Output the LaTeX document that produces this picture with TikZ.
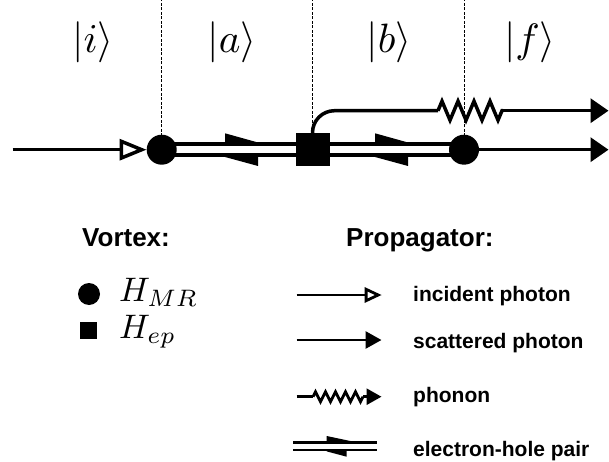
\documentclass[tikz,border=0pt]{standalone}
\usepackage{fontspec}
\newfontfamily\legfont{Liberation Sans}
\usetikzlibrary{arrows.meta,decorations.pathmorphing}
\pgfdeclarelayer{bg}
\pgfsetlayers{bg,main}
\newcommand{\biglbl}[1]{\scalebox{4.1}{$#1$}}
\newcommand{\midlbl}[1]{\scalebox{3.4}{$#1$}}
\begin{document}
\begin{tikzpicture}[x=1pt,y=-1pt,
  thickline/.style={line width=3.5pt},
  legline/.style={line width=2.8pt},
  vert/.style={circle,fill=black,inner sep=0pt,minimum size=30pt},
  sqv/.style={rectangle,fill=black,inner sep=0pt,minimum width=34pt,minimum height=33pt},
  statelbl/.style={anchor=base,inner sep=0pt},
  headtxt/.style={anchor=base west,inner sep=0pt,font={\legfont\bfseries\fontsize{26}{26}\selectfont}},
  legtxt/.style={anchor=base west,inner sep=0pt,font={\legfont\bfseries\fontsize{21}{21}\selectfont}},
  mathtxt/.style={anchor=base west,inner sep=0pt},
  sepline/.style={line width=1pt,dash pattern=on 3pt off 1.5pt},
  halfarrow/.style={fill=black},
]
\useasboundingbox (0,0) rectangle (609,462);

% state labels
\node[statelbl] (li) at (93,53) {\biglbl{|i\rangle}};
\node[statelbl] (la) at (232,53) {\biglbl{|a\rangle}};
\node[statelbl] (lb) at (389,53) {\biglbl{|b\rangle}};
\node[statelbl] (lf) at (530,53) {\biglbl{|f\rangle}};

% vertices
\node[vert] (v1) at (161.7,149.7) {};
\node[sqv] (s) at (312.5,149.7) {};
\node[vert] (v2) at (464,149.7) {};

\coordinate (inL) at (12.7,149.7);
\coordinate (outR) at (608.5,149.7);
\coordinate (phR) at (608.5,110.7);
\coordinate (zz1) at (438,110.7);
\coordinate (zz2) at (503,110.7);

\begin{pgfonlayer}{bg}
  % separators
  \draw[sepline] (v1.center) -- (v1.center |- 0,0);
  \draw[sepline] (s.center) -- (s.center |- 0,0);
  \draw[sepline] (v2.center) -- (v2.center |- 0,0);
  % electron-hole pair lines
  \draw[thickline] ([yshift=5.55pt]v1.center) -- ([yshift=5.55pt]s.center);
  \draw[thickline] ([yshift=-5.55pt]v1.center) -- ([yshift=-5.55pt]s.center);
  \draw[thickline] ([yshift=5.55pt]s.center) -- ([yshift=5.55pt]v2.center);
  \draw[thickline] ([yshift=-5.55pt]s.center) -- ([yshift=-5.55pt]v2.center);
  % scattered photon
  \draw[thickline,-{Triangle[length=18pt,width=24pt]}] (v2.center) -- (outR);
\end{pgfonlayer}

% half arrows
\fill[halfarrow] (225,133.3) -- (258,142.5) -- (258,144.2) -- (225,144.2) -- cycle;
\fill[halfarrow] (225,157) -- (258,166) -- (258,155.3) -- (225,155.3) -- cycle;
\fill[halfarrow] (375,133.3) -- (408,142.5) -- (408,144.2) -- (375,144.2) -- cycle;
\fill[halfarrow] (375,157) -- (408,166) -- (408,155.3) -- (375,155.3) -- cycle;

% incident photon
\draw[thickline,-{Triangle[open,length=27pt,width=21pt]}] (inL) -- (v1.west);

% phonon
\draw[thickline,rounded corners=22pt] (s.north) |- (zz1);
\draw[thickline,decorate,decoration={zigzag,segment length=16pt,amplitude=9.5pt}] (zz1) -- (zz2);
\draw[thickline,-{Triangle[length=18pt,width=24pt]}] (zz2) -- (phR);

% legend headings
\node[headtxt] (vt) at (82,246.7) {Vortex:};
\node[headtxt] (pt) at (346,246.7) {Propagator:};

% vortex legend
\node[circle,fill=black,inner sep=0pt,minimum size=22pt] (lc) at (89,294) {};
\node[rectangle,fill=black,inner sep=0pt,minimum size=17pt] (ls) at (88.5,330) {};
\node[mathtxt] (hmr) at (119,301) {\midlbl{H_{MR}}};
\node[mathtxt] (hep) at (119,338.5) {\midlbl{H_{ep}}};

% propagator legend
\coordinate (a1) at (296.7,295);
\coordinate (a1e) at (381.7,295);
\draw[legline,-{Triangle[open,length=17pt,width=15pt]}] (a1) -- (a1e);
\node[legtxt] (t1) at (413,301.7) {incident photon};

\coordinate (a2) at (296.7,340);
\coordinate (a2e) at (381.5,340);
\draw[legline,-{Triangle[length=16pt,width=17pt]}] (a2) -- (a2e);
\node[legtxt] (t2) at (413,348.3) {scattered photon};

\coordinate (a3) at (296.7,396.7);
\coordinate (a3z) at (313,396.7);
\coordinate (a3y) at (363,396.7);
\coordinate (a3e) at (381.5,396.7);
\draw[legline] (a3) -- (a3z);
\draw[legline,decorate,decoration={zigzag,segment length=10pt,amplitude=5pt}] (a3z) -- (a3y);
\draw[legline,-{Triangle[length=15pt,width=16pt]}] (a3y) -- (a3e);
\node[legtxt] (t3) at (413,402.7) {phonon};

\coordinate (a4u) at (293,442.7);
\coordinate (a4ue) at (377,442.7);
\coordinate (a4l) at (293,450);
\coordinate (a4le) at (377,450);
\draw[legline] (a4u) -- (a4ue);
\draw[legline] (a4l) -- (a4le);
\fill[halfarrow] (326.7,436) -- (351.7,441.3) -- (351.7,442.7) -- (326.7,442.7) -- cycle;
\fill[halfarrow] (326.7,451.4) -- (346.7,456.7) -- (346.7,450) -- (326.7,450) -- cycle;
\node[legtxt] (t4) at (413,456.7) {electron-hole pair};
\end{tikzpicture}
\end{document}
